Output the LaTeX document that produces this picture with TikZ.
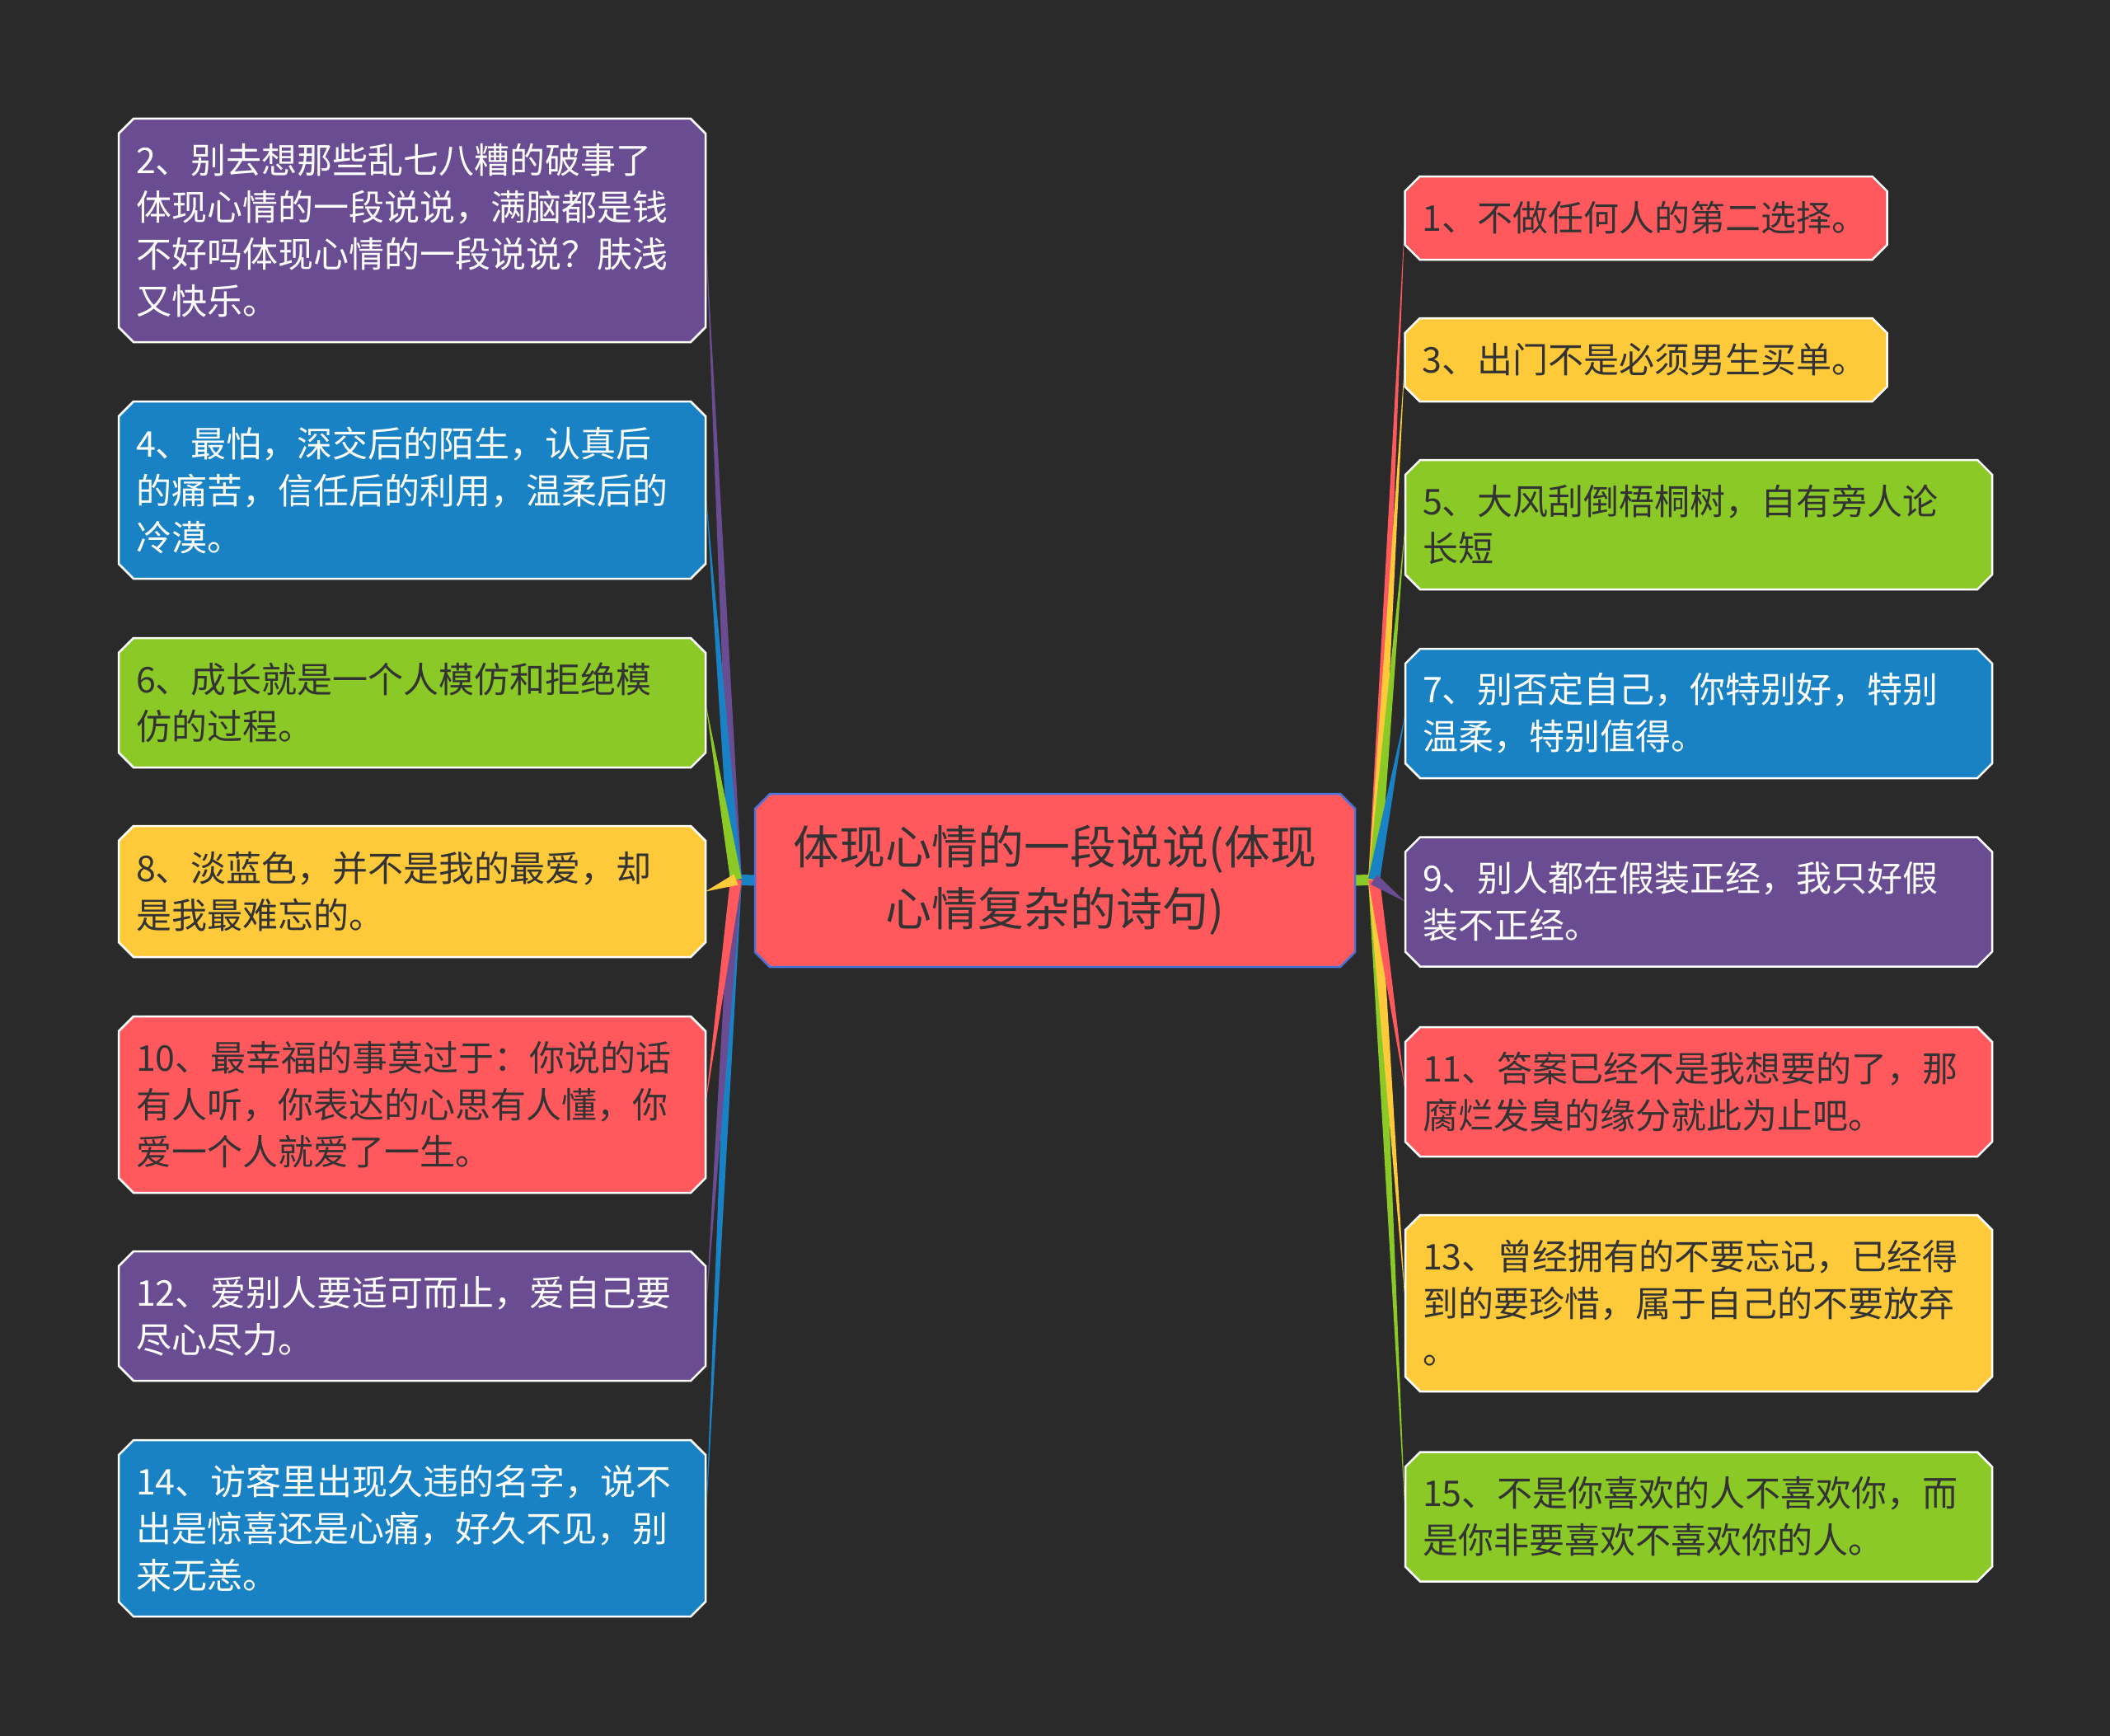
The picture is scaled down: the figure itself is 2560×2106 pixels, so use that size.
\documentclass[tikz,border=0pt]{standalone}
\usepackage{fontspec}
\setmainfont{Noto Sans CJK SC}
\usetikzlibrary{calc}
\definecolor{bgc}{HTML}{2A2A2A}
\definecolor{cred}{HTML}{FF595E}
\definecolor{cyel}{HTML}{FFCA3A}
\definecolor{cgrn}{HTML}{8AC926}
\definecolor{cblu}{HTML}{1982C4}
\definecolor{cpur}{HTML}{6A4C93}
\definecolor{txtdark}{HTML}{333333}
\definecolor{cborder}{HTML}{4A73D9}
\pgfdeclarelayer{back}\pgfdeclarelayer{wedge}\pgfdeclarelayer{boxes}
\pgfsetlayers{back,wedge,boxes,main}
\newcommand\octfill[3]{%
 \path[fill=#2,draw=#3,line width=2.5pt,line join=miter]
  ([xshift=18pt]#1.north west) -- ([xshift=-18pt]#1.north east) -- ([yshift=-18pt]#1.north east)
  -- ([yshift=18pt]#1.south east) -- ([xshift=-18pt]#1.south east) -- ([xshift=18pt]#1.south west)
  -- ([yshift=18pt]#1.south west) -- ([yshift=-18pt]#1.north west) -- cycle;}
\newcommand\wedgeto[3]{%
 \fill[#3] (#2) -- ($(#1)!7pt!90:(#2)$) -- ($(#1)!7pt!-90:(#2)$) -- cycle;}
\tikzset{
 itm/.style={inner xsep=21pt, inner ysep=0pt, outer sep=0pt, align=left,
   font=\fontsize{43}{57}\selectfont, minimum height=#1},
 lbox/.style={itm=#1, text width=670pt, minimum width=712pt},
 sbox/.style={itm=#1, text width=543pt, minimum width=585pt},
 lighttxt/.style={text=white},
 darktxt/.style={text=txtdark},
 hubstub/.style={line width=13pt},
}
\begin{document}
\begin{tikzpicture}[x=1pt,y=-1pt]
\begin{pgfonlayer}{back}
\fill[bgc] (0,0) rectangle (2560,2106);
\end{pgfonlayer}
\useasboundingbox (0,0) rectangle (2560,2106);

% center
\node[inner sep=0pt, outer sep=0pt, minimum width=728pt, minimum height=210pt, align=center,
  font=\fontsize{56}{75}\selectfont, text=txtdark] (c) at (1280,1068)
  {体现心情的一段说说(体现\\心情复杂的诗句)};

% left boxes
\node[lbox=271pt, lighttxt] (b2) at (500,279.5) {2、别去想那些乱七八糟的破事了\\体现心情的一段说说，满脑都是钱\\不好吗体现心情的一段说说？肤浅\\又快乐。};
\node[lbox=215pt, lighttxt] (b4) at (500,594.5) {4、最怕，深交后的陌生，认真后\\的痛苦，信任后的利用，温柔后的\\冷漠。};
\node[lbox=157pt, darktxt] (b6) at (500,852.5) {6、成长就是一个人模仿和拒绝模\\仿的过程。};
\node[lbox=159pt, darktxt] (b8) at (500,1081.5) {8、淡蓝色，并不是我的最爱，却\\是我最难忘的。};
\node[lbox=214pt, darktxt] (b10) at (500,1340) {10、最幸福的事莫过于：你说的话\\有人听，你表达的心思有人懂，你\\爱一个人就爱了一生。};
\node[lbox=157pt, lighttxt] (b12) at (500,1596.5) {12、爱别人要适可而止，爱自己要\\尽心尽力。};
\node[lbox=214pt, lighttxt] (b14) at (500,1854) {14、访客里出现久违的名字，说不\\出是惊喜还是心痛，好久不见，别\\来无恙。};

% right boxes
\node[sbox=101pt, darktxt] (b1) at (1997,264.5) {1、不做任何人的第二选择。};
\node[sbox=101pt, darktxt] (b3) at (1997,436.5) {3、出门不是必须男生买单。};
\node[lbox=157pt, darktxt] (b5) at (2061,636.5) {5、大风刮倒梧桐树，自有旁人论\\长短};
\node[lbox=157pt, lighttxt] (b7) at (2061,865.5) {7、别否定自己，你特别好，特别\\温柔，特别值得。};
\node[lbox=157pt, lighttxt] (b9) at (2061,1094) {9、别人都在假装正经，我只好假\\装不正经。};
\node[lbox=157pt, darktxt] (b11) at (2061,1324.5) {11、答案已经不是我想要的了，那\\腐烂发臭的缘分就此为止吧。};
\node[lbox=214pt, darktxt] (b13) at (2061,1581) {13、曾经拥有的不要忘记，已经得\\到的要珍惜，属于自己的不要放弃\\。};
\node[lbox=157pt, darktxt] (b15) at (2061,1840) {15、不是你喜欢的人不喜欢你，而\\是你非要喜欢不喜欢你的人。};

\coordinate (L) at (893,1067);
\coordinate (R) at (1667,1067);

\begin{pgfonlayer}{boxes}
\octfill{c}{cred}{cborder}
\octfill{b2}{cpur}{white}
\octfill{b4}{cblu}{white}
\octfill{b6}{cgrn}{white}
\octfill{b8}{cyel}{white}
\octfill{b10}{cred}{white}
\octfill{b12}{cpur}{white}
\octfill{b14}{cblu}{white}
\octfill{b1}{cred}{white}
\octfill{b3}{cyel}{white}
\octfill{b5}{cgrn}{white}
\octfill{b7}{cblu}{white}
\octfill{b9}{cpur}{white}
\octfill{b11}{cred}{white}
\octfill{b13}{cyel}{white}
\octfill{b15}{cgrn}{white}
\end{pgfonlayer}

\begin{pgfonlayer}{wedge}
\draw[hubstub, cblu] (c.west) -- ([xshift=-7pt]L);
\draw[hubstub, cgrn] (c.east) -- ([xshift=7pt]R);
\wedgeto{L}{b2.east}{cpur}
\wedgeto{L}{b14.east}{cblu}
\wedgeto{L}{b4.east}{cblu}
\wedgeto{L}{b12.east}{cpur}
\wedgeto{L}{b6.east}{cgrn}
\wedgeto{L}{b10.east}{cred}
\wedgeto{L}{b8.east}{cyel}
\wedgeto{R}{b1.west}{cred}
\wedgeto{R}{b15.west}{cgrn}
\wedgeto{R}{b3.west}{cyel}
\wedgeto{R}{b13.west}{cyel}
\wedgeto{R}{b5.west}{cgrn}
\wedgeto{R}{b11.west}{cred}
\wedgeto{R}{b7.west}{cblu}
\wedgeto{R}{b9.west}{cpur}
\end{pgfonlayer}
\end{tikzpicture}
\end{document}
